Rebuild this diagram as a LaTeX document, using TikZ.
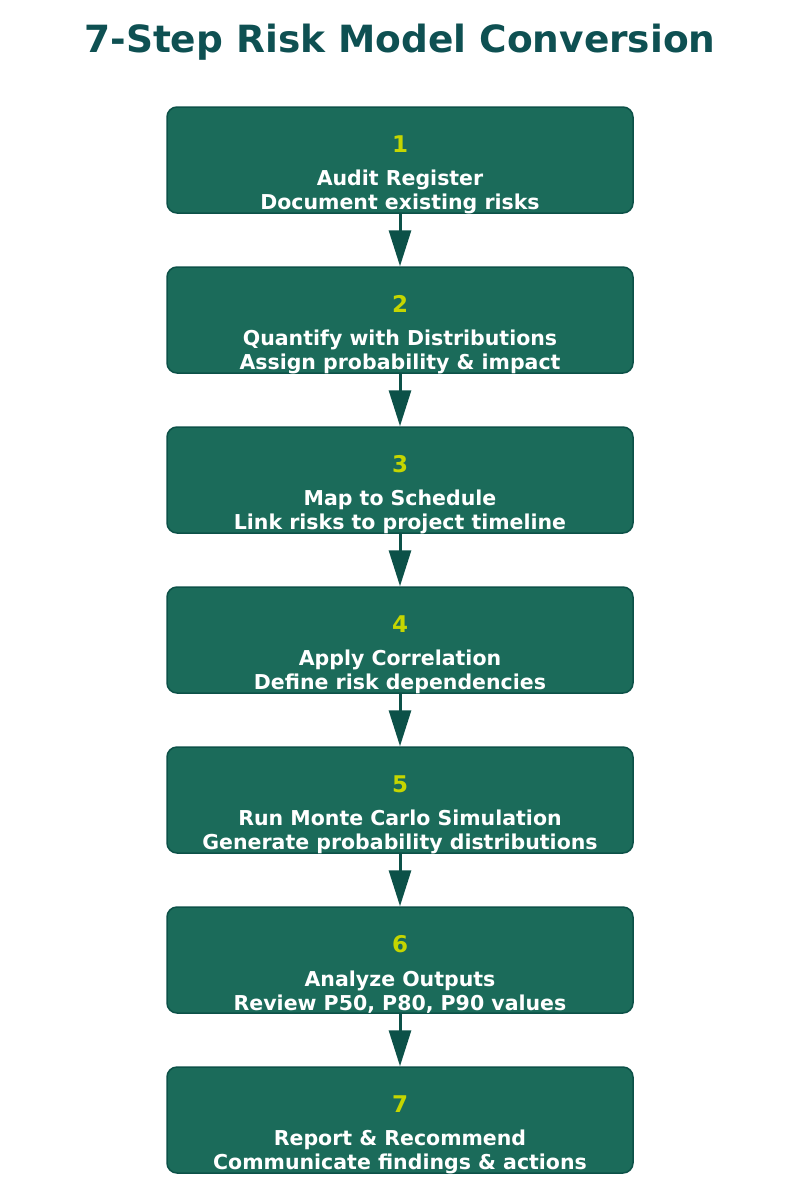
\documentclass[tikz,border=0pt]{standalone}
\usepackage{fontspec}
\setmainfont{DejaVu Sans}
\usetikzlibrary{arrows.meta}
\definecolor{boxfill}{HTML}{1B6B5A}
\definecolor{boxedge}{HTML}{0C5148}
\definecolor{titlec}{HTML}{0E5052}
\definecolor{numc}{HTML}{C5D600}
\begin{document}
\begin{tikzpicture}[x=1pt,y=-1pt,
  stepbox/.style={draw=boxedge,line width=1.5pt,fill=boxfill,rounded corners=10pt,minimum width=466pt,minimum height=106pt,inner sep=0pt},
  num/.style={text=numc,font=\bfseries\fontsize{23}{26}\selectfont},
  lbl/.style={text=white,font=\bfseries\fontsize{20.5}{24}\selectfont,align=center,inner sep=0pt},
  conn/.style={draw=boxedge,line width=3pt,-{Triangle[length=36pt,width=22pt]}}]
\useasboundingbox (0,0) rectangle (800,1200);
\node[text=titlec,font=\bfseries\fontsize{37.5}{40}\selectfont] (title) at (400,42) {7-Step Risk Model Conversion};
\foreach \i/\a/\b in {1/Audit Register/Document existing risks,
  2/Quantify with Distributions/Assign probability \& impact,
  3/Map to Schedule/Link risks to project timeline,
  4/Apply Correlation/Define risk dependencies,
  5/Run Monte Carlo Simulation/Generate probability distributions,
  6/Analyze Outputs/{Review P50, P80, P90 values},
  7/Report \& Recommend/Communicate findings \& actions}{
  \node[stepbox] (s\i) at (400,{160*\i}) {};
  \node[num] (n\i) at (400,{160*\i-16}) {\i};
  \node[lbl] (l\i) at (400,{160*\i+32}) {\a\\\b};
}
\foreach \i [evaluate=\i as \j using int(\i+1)] in {1,...,6}{
  \draw[conn] (s\i.south) -- (s\j.north);
}
\end{tikzpicture}
\end{document}
